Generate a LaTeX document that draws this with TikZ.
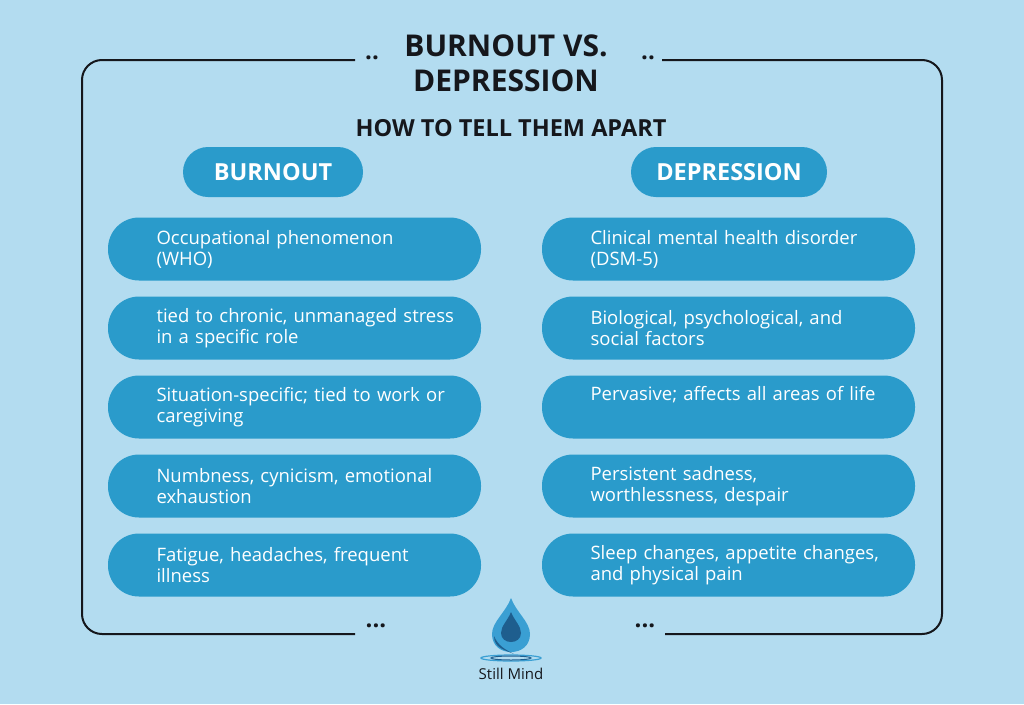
\documentclass[tikz,border=0pt]{standalone}
\usepackage{fontspec}
\setmainfont{Open Sans}
\definecolor{bg}{HTML}{B3DCF0}
\definecolor{pill}{HTML}{2A9BCB}
\definecolor{ink}{HTML}{15171C}
\definecolor{dropA}{HTML}{3A9FD3}
\definecolor{dropB}{HTML}{1E5E8E}
\begin{document}
\begin{tikzpicture}[x=1pt,y=-1pt,
  item/.style={fill=pill,rounded corners=31pt,minimum width=373pt,minimum height=63pt,inner sep=0},
  itxt/.style={text=white,font=\fontsize{18.5}{21}\selectfont,align=left,anchor=west,text width=340pt},
  head/.style={fill=pill,rounded corners=25pt,minimum height=50pt,text=white,font=\fontsize{23.5}{26}\selectfont\bfseries}]
\fill[bg] (0,0) rectangle (1024,704);
\useasboundingbox (0,0) rectangle (1024,704);
\draw[ink,line width=2pt,rounded corners=20] (355,60) -- (82,60) -- (82,634) -- (355,634);
\draw[ink,line width=2pt,rounded corners=20] (665,634) -- (942,634) -- (942,60) -- (662,60);
\node[text=ink,font=\fontsize{24}{24}\selectfont\bfseries] (d1) at (372,58) {..};
\node[text=ink,font=\fontsize{24}{24}\selectfont\bfseries] (d2) at (648,58) {..};
\node[text=ink,font=\fontsize{24}{24}\selectfont\bfseries] (d3) at (376,626) {...};
\node[text=ink,font=\fontsize{24}{24}\selectfont\bfseries] (d4) at (645,626) {...};
\node[text=ink,font=\fontsize{30}{35}\selectfont\bfseries,align=center] (title) at (506,63) {BURNOUT VS.\\DEPRESSION};
\node[text=ink,font=\fontsize{23.5}{26}\selectfont\bfseries] (sub) at (511,128) {HOW TO TELL THEM APART};
\node[head,minimum width=180pt] (hl) at (273,172) {BURNOUT};
\node[head,minimum width=196pt] (hr) at (729,172) {DEPRESSION};
\foreach \i/\y/\l/\r in {
 1/249/{Occupational phenomenon\\(WHO)}/{Clinical mental health disorder\\(DSM-5)},
 2/328/{tied to chronic, unmanaged stress\\in a specific role}/{Biological, psychological, and\\social factors},
 3/407/{Situation-specific; tied to work or\\caregiving}/{Pervasive; affects all areas of life\\\strut},
 4/486/{Numbness, cynicism, emotional\\exhaustion}/{Persistent sadness,\\worthlessness, despair},
 5/565/{Fatigue, headaches, frequent\\illness}/{Sleep changes, appetite changes,\\and physical pain}}{
 \node[item] (L\i) at (294.5,\y) {};
 \node[itxt] at (153,\y) {\l};
 \node[item] (R\i) at (728.5,\y) {};
 \node[itxt] at (587,\y) {\r};
}
% logo
\fill[dropA] (511,598) .. controls (506,612) and (492,622) .. (492,634) .. controls (492,646) and (501,652) .. (511,652) .. controls (521,652) and (530,646) .. (530,634) .. controls (530,622) and (516,612) .. (511,598) -- cycle;
\fill[dropB] (511,612) .. controls (508,620) and (501,626) .. (501,633) .. controls (501,639) and (506,642) .. (511,642) .. controls (516,642) and (521,639) .. (521,633) .. controls (521,626) and (514,620) .. (511,612) -- cycle;
\fill[dropB] (494,636) .. controls (494,648) and (505,650) .. (514,654) .. controls (506,650) and (498,646) .. (494,636) -- cycle;
\draw[dropA,line width=1.2pt] (511,658) ellipse (30 and 3);
\draw[dropB,line width=1pt] (511,658) ellipse (20 and 2);
\node[text=ink,font=\fontsize{15}{17}\selectfont] (logo) at (511,674) {Still Mind};
\end{tikzpicture}
\end{document}
